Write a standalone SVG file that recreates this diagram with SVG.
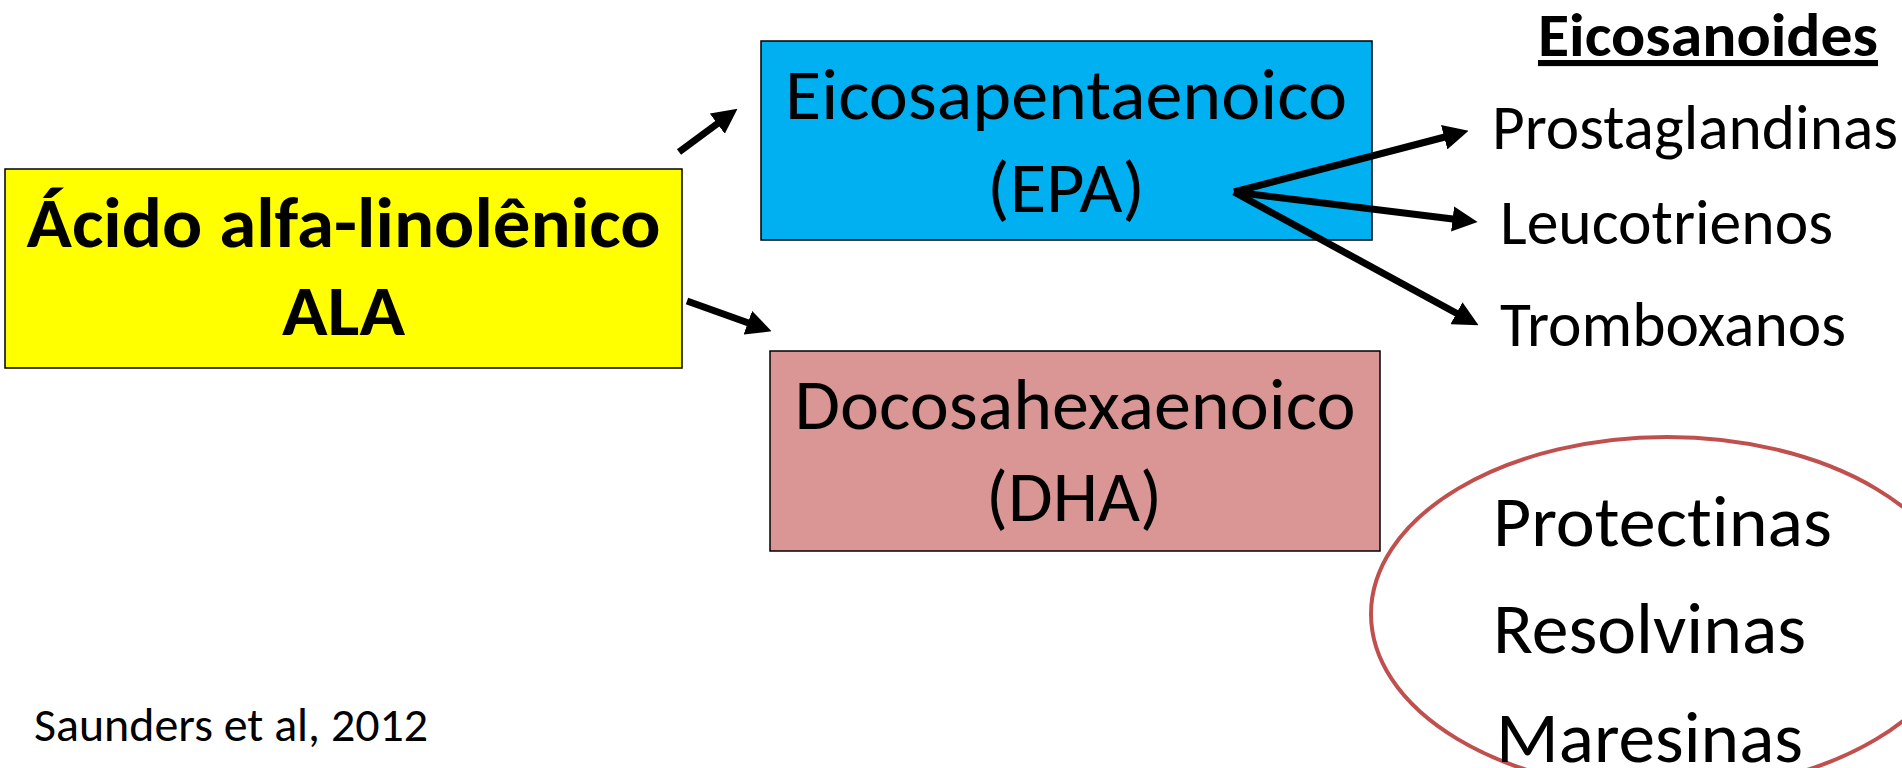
<svg xmlns="http://www.w3.org/2000/svg" width="1902" height="768" viewBox="0 0 1902 768">
<style>
text{font-family:Carlito,Lato,"Open Sans","Liberation Sans",sans-serif;fill:#000;font-variant-ligatures:none;font-feature-settings:"liga" 0,"clig" 0}
.box{stroke:#000;stroke-width:1.5}
.big{font-size:71px}
.bold{font-weight:bold}
.mid{font-size:64px}
.c{text-anchor:middle}
.arr{stroke:#000;stroke-width:7;fill:none;marker-end:url(#ah)}
</style>
<defs>
<marker id="ah" viewBox="0 0 10 10" refX="5" refY="5" markerWidth="3.6" markerHeight="3.6" orient="auto" markerUnits="strokeWidth">
<path d="M0,0 L10,5 L0,10 z" fill="#000"/>
</marker>
</defs>
<rect width="1902" height="768" fill="#fff"/>
<g id="ala">
<rect class="box" x="5" y="169" width="677" height="199" fill="#FFFF00"/>
<text class="big bold c" x="343.5" y="247" textLength="634" lengthAdjust="spacingAndGlyphs">Ácido alfa-linolênico</text>
<text class="big bold c" x="343.5" y="335" textLength="123" lengthAdjust="spacingAndGlyphs">ALA</text>
</g>
<g id="epa">
<rect class="box" x="761" y="41" width="611" height="199" fill="#00B0F0"/>
<text class="big c" x="1066" y="119" textLength="562" lengthAdjust="spacingAndGlyphs">Eicosapentaenoico</text>
<text class="big c" x="1066" y="212" textLength="158" lengthAdjust="spacingAndGlyphs">(EPA)</text>
</g>
<g id="dha">
<rect class="box" x="770" y="351" width="610" height="200" fill="#D99694"/>
<text class="big c" x="1075" y="429" textLength="561" lengthAdjust="spacingAndGlyphs">Docosahexaenoico</text>
<text class="big c" x="1074" y="521" textLength="176" lengthAdjust="spacingAndGlyphs">(DHA)</text>
</g>
<g id="eicosanoides">
<text class="bold" x="1538" y="56" font-size="61" text-decoration="underline" textLength="340" lengthAdjust="spacingAndGlyphs">Eicosanoides</text>
</g>
<g id="prostaglandinas">
<text class="mid" x="1492" y="149" textLength="406" lengthAdjust="spacingAndGlyphs">Prostaglandinas</text>
</g>
<g id="leucotrienos">
<text class="mid" x="1500" y="244" textLength="333" lengthAdjust="spacingAndGlyphs">Leucotrienos</text>
</g>
<g id="tromboxanos">
<text class="mid" x="1500" y="346" textLength="346" lengthAdjust="spacingAndGlyphs">Tromboxanos</text>
</g>
<g id="mediadores">
<ellipse cx="1667" cy="614" rx="296" ry="177" fill="none" stroke="#C0504D" stroke-width="4"/>
<text class="big" x="1493" y="546" textLength="339" lengthAdjust="spacingAndGlyphs">Protectinas</text>
<text class="big" x="1493" y="653" textLength="313" lengthAdjust="spacingAndGlyphs">Resolvinas</text>
<text class="big" x="1496" y="762" textLength="307" lengthAdjust="spacingAndGlyphs">Maresinas</text>
</g>
<g id="ref">
<text x="34" y="741" font-size="48" textLength="394" lengthAdjust="spacingAndGlyphs">Saunders et al, 2012</text>
</g>
<g id="connectors">
<line class="arr" x1="679" y1="152" x2="727.4" y2="116.2"/>
<line class="arr" x1="687" y1="301" x2="759.7" y2="327"/>
<line class="arr" x1="1234" y1="192" x2="1456.4" y2="134"/>
<line class="arr" x1="1234" y1="192" x2="1465.1" y2="220.5"/>
<line class="arr" x1="1234" y1="192" x2="1467.5" y2="319.3"/>
</g>
</svg>
